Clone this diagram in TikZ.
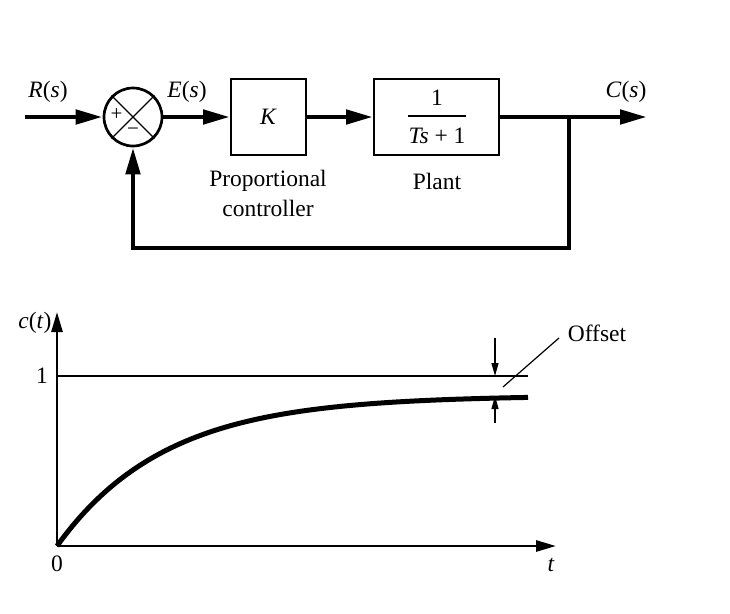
\documentclass[tikz,border=0pt]{standalone}
\usepackage{fontspec}
\setmainfont{Liberation Serif}
\usetikzlibrary{arrows.meta}
\begin{document}
\begin{tikzpicture}[x=1pt,y=-1pt,
  lbl/.style={font=\fontsize{23.5}{28}\selectfont, inner sep=0pt},
  sml/.style={font=\fontsize{21}{24}\selectfont, inner sep=0pt},
  blk/.style={draw, line width=2pt, inner sep=0pt},
  sig/.style={line width=4.8pt, -{Triangle[length=27pt,width=14pt]}},
  axis/.style={line width=2.7pt, -{Triangle[length=20pt,width=11pt]}},
  thinarrow/.style={line width=1.2pt, -{Triangle[length=13pt,width=7pt]}}]
\useasboundingbox (0,0) rectangle (730,613);
% ---------------- block diagram ----------------
\node[circle, draw, line width=2.7pt, minimum size=58pt, inner sep=0pt] (sum) at (133,117) {};
\draw[line width=1.3pt] (sum.north west) -- (sum.south east);
\draw[line width=1.3pt] (sum.north east) -- (sum.south west);
\node[sml] (plus) at (116.5,115) {+};
\node[sml] (minus) at (133,132) {\char"2212};
\node[blk, minimum width=75pt, minimum height=76pt] (K) at (268.5,117) {};
\node[lbl] (Ktxt) at (K.center) {\textit{K}};
\node[blk, minimum width=125pt, minimum height=76pt] (plant) at (436.5,117) {};
\node[lbl] (num) at (437,98) {1};
\node[lbl] (den) at (437,136) {\textit{Ts} + 1};
\coordinate (barl) at (408,116);
\coordinate (barr) at (466,116);
\draw[line width=1.2pt] (barl) -- (barr);
\coordinate (in) at (25,117);
\coordinate (out) at (647,117);
\coordinate (br) at (569,117);
\coordinate (fb) at (569,248);
\draw[sig] (in) -- (sum.west);
\draw[sig] (sum.east) -- (K.west);
\draw[sig] (K.east) -- (plant.west);
\draw[sig] (plant.east) -- (out);
\draw[sig] (br) -- (fb) -| (sum.south);
\node[lbl] (R) at (48,92) {\textit{R}(\textit{s})};
\node[lbl] (E) at (187,92) {\textit{E}(\textit{s})};
\node[lbl] (C) at (626,92) {\textit{C}(\textit{s})};
\node[lbl] (pc1) at (268,181) {Proportional};
\node[lbl] (pc2) at (268,208) {controller};
\node[lbl] (pl) at (437,181) {Plant};
% ---------------- response plot ----------------
\coordinate (O) at (57,546);
\coordinate (yt) at (57,312);
\coordinate (xt) at (556,546);
\draw[axis] (O) -- (yt);
\draw[axis] (O) -- (xt);
\coordinate (onel) at (57,376);
\coordinate (oner) at (528,376);
\draw[line width=1.2pt] (onel) -- (oner);
\draw[line width=5pt, line cap=butt] plot[domain=0:471, samples=120, smooth]
  ({57+\x},{546-150.5*(1-exp(-\x/108))});
\coordinate (a1s) at (495,338);
\coordinate (a1e) at (495,376);
\coordinate (a2s) at (495,423);
\coordinate (a2e) at (495,396);
\draw[thinarrow] (a1s) -- (a1e);
\draw[thinarrow] (a2s) -- (a2e);
\coordinate (ldA) at (503,387);
\coordinate (ldB) at (559,338);
\draw[line width=1.2pt] (ldA) -- (ldB);
\node[lbl] (off) at (597,333) {Offset};
\node[lbl] (ct) at (35,323) {\textit{c}(\textit{t})};
\node[lbl] (one) at (42,376) {1};
\node[lbl] (zero) at (57,564) {0};
\node[lbl] (tl) at (551,565) {\textit{t}};
\end{tikzpicture}
\end{document}
